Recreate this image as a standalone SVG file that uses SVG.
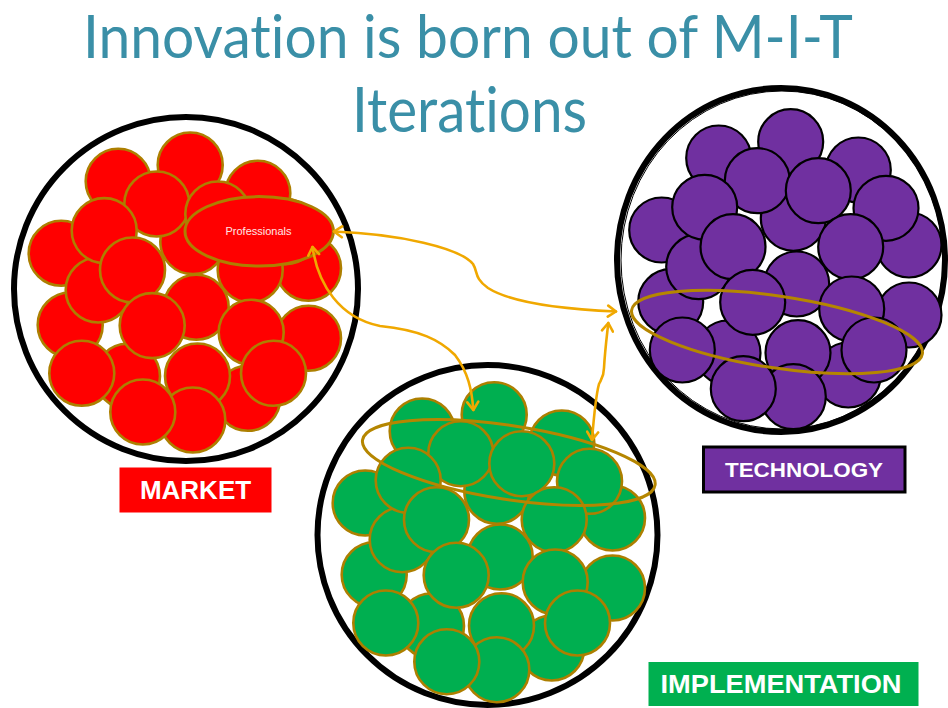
<svg xmlns="http://www.w3.org/2000/svg" xmlns:xlink="http://www.w3.org/1999/xlink" width="948" height="708" viewBox="0 0 948 708">
<style>
.title{font-family:Lato,"Open Sans","Liberation Sans",sans-serif;fill:#3A8FA7;text-anchor:middle;font-variant-ligatures:none;font-feature-settings:"liga" 0,"clig" 0}
.ring{fill:none;stroke:#000;stroke-width:6}
.gold{stroke:#AD7F00;stroke-width:2.6}
.sel{fill:none;stroke:#B58600;stroke-width:3}
.lbl{font-family:"Liberation Sans",Arial,sans-serif;font-weight:bold;fill:#fff;text-anchor:middle}
.arrow{fill:none;stroke:#F0A800;stroke-width:2.6;stroke-linecap:round}
</style>
<defs>
<marker id="head" markerUnits="userSpaceOnUse" viewBox="-10 -7 12 14" refX="0" refY="0" markerWidth="12" markerHeight="14" orient="auto-start-reverse">
<path d="M-8,-5.5 L0,0 L-8,5.5" fill="none" stroke="#F0A800" stroke-width="2.6" stroke-linecap="round" stroke-linejoin="round"/>
</marker>
<g id="cluster">
<circle cx="11.7" cy="-123.3" r="32.5"/>
<circle cx="-60.3" cy="-107" r="32.5"/>
<circle cx="79.3" cy="-95" r="32.5"/>
<circle cx="14.3" cy="-46.7" r="32.5"/>
<circle cx="130" cy="-20" r="32.5"/>
<circle cx="-117.3" cy="-35" r="32.5"/>
<circle cx="-51" cy="88" r="32.5"/>
<circle cx="69.3" cy="110" r="32.5"/>
<circle cx="130" cy="50" r="32.5"/>
<circle cx="-108.3" cy="36.7" r="32.5"/>
<circle cx="17.7" cy="19" r="32.5"/>
<circle cx="-21.7" cy="-84.3" r="32.5"/>
<circle cx="39.3" cy="-74.3" r="32.5"/>
<circle cx="-80.3" cy="1.7" r="32.5"/>
<circle cx="-74.3" cy="-57.7" r="32.5"/>
<circle cx="-46" cy="-18.3" r="32.5"/>
<circle cx="107" cy="-56.7" r="32.5"/>
<circle cx="71.7" cy="-18.3" r="32.5"/>
<circle cx="72.7" cy="44" r="32.5"/>
<circle cx="-26.3" cy="37.3" r="32.5"/>
<circle cx="-96.7" cy="85" r="32.5"/>
<circle cx="19" cy="87.7" r="32.5"/>
<circle cx="95" cy="85" r="32.5"/>
<circle cx="14.3" cy="131.7" r="32.5"/>
<circle cx="-35.7" cy="123.7" r="32.5"/>
</g>
</defs>
<rect width="948" height="708" fill="#fff"/>
<g id="title">
<text class="title" x="468" y="57.5" font-size="60" textLength="770" lengthAdjust="spacingAndGlyphs">Innovation is born out of M-I-T</text>
<text class="title" x="469.5" y="131.5" font-size="62" textLength="235" lengthAdjust="spacingAndGlyphs">Iterations</text>
</g>
<g id="market">
<circle class="ring" cx="186" cy="289" r="172"/>
<use xlink:href="#cluster" href="#cluster" transform="translate(178.5,288.3)" fill="#FF0000" class="gold"/>
<ellipse cx="259.2" cy="231.3" rx="74.2" ry="34.7" fill="#FF0000" stroke="#AD7F00" stroke-width="3"/>
<text x="258.5" y="235" font-family="'Liberation Sans',Arial,sans-serif" font-size="11" fill="#FFE6E6" text-anchor="middle">Professionals</text>
</g>
<g id="technology">
<ellipse class="ring" cx="781" cy="260" rx="164" ry="172"/>
<ellipse cx="782" cy="260" rx="161" ry="169" fill="none" stroke="#000" stroke-width="1"/>
<use xlink:href="#cluster" href="#cluster" transform="translate(779,265)" fill="#7030A0" stroke="#000" stroke-width="2.2"/>
<ellipse class="sel" cx="777" cy="332" rx="147" ry="36" transform="rotate(8.5 777 332)"/>
</g>
<g id="implementation">
<circle class="ring" cx="487.5" cy="535" r="170"/>
<use xlink:href="#cluster" href="#cluster" transform="translate(482.5,538)" fill="#00AF50" class="gold"/>
<ellipse class="sel" cx="508.8" cy="462.5" rx="148" ry="37" transform="rotate(8.75 508.8 462.5)" stroke="#AD7F00"/>
</g>
<g id="label-market">
<rect x="119.5" y="467.5" width="152" height="45" fill="#FF0000"/>
<text class="lbl" x="195.5" y="499.3" font-size="26">MARKET</text>
</g>
<g id="label-technology">
<rect x="703.5" y="447" width="201.5" height="45" fill="#7030A0" stroke="#000" stroke-width="3"/>
<text class="lbl" x="804" y="477.3" font-size="21" textLength="158" lengthAdjust="spacingAndGlyphs" fill="#F3EDF8">TECHNOLOGY</text>
</g>
<g id="label-implementation">
<rect x="648.5" y="662" width="270" height="44" fill="#00B050"/>
<text class="lbl" x="781" y="693.3" font-size="26" textLength="241" lengthAdjust="spacingAndGlyphs">IMPLEMENTATION</text>
</g>
<g id="connectors">
<path class="arrow" d="M334,231.5 C400,234 460,248 473,264 C478,272 474,278 488,288 C510,302 560,309 616,311.5" marker-start="url(#head)" marker-end="url(#head)"/>
<path class="arrow" d="M312.5,247 C318,285 340,318 380,326 C420,330 440,340 455,355 C468,372 472,390 473.3,410" marker-start="url(#head)" marker-end="url(#head)"/>
<path class="arrow" stroke-width="2" d="M592,440 C594,415 596,395 599,384 C602,378 604,376 604,368 C605,350 607,335 608.3,323" marker-start="url(#head)" marker-end="url(#head)"/>
</g>
</svg>
